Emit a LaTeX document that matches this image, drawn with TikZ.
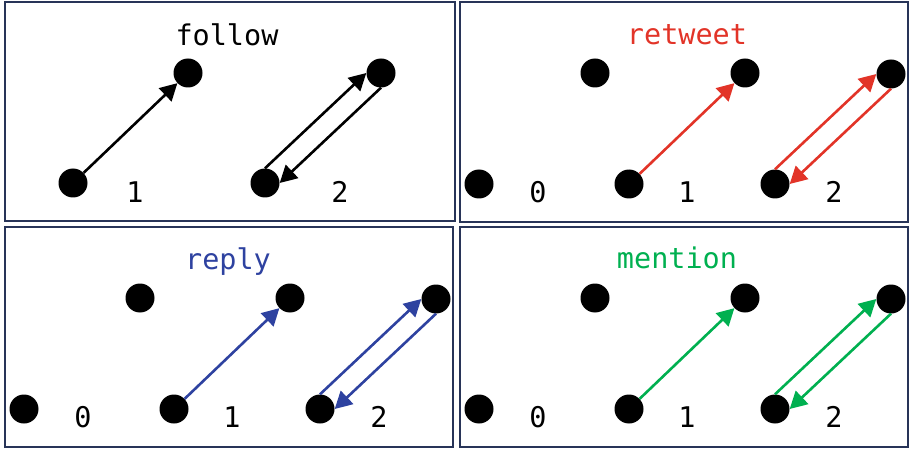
\documentclass[tikz,border=0pt]{standalone}
\usepackage{fontspec}
\setmonofont{DejaVu Sans Mono}
\usepackage{tikz}
\usetikzlibrary{arrows.meta}
\definecolor{framecol}{RGB}{40,52,88}
\definecolor{rtred}{RGB}{226,52,40}
\definecolor{rpblue}{RGB}{46,66,160}
\definecolor{mngreen}{RGB}{0,176,80}
\tikzset{
  dot/.style={circle,fill=black,minimum size=29pt,inner sep=0pt},
  panel/.style={draw=framecol,line width=2.4pt},
  edge/.style={line width=2.6pt,-{Triangle[length=17pt,width=18pt]}},
  title/.style={font=\ttfamily\fontsize{28.5}{30}\selectfont},
  count/.style={font=\ttfamily\fontsize{28.5}{30}\selectfont},
}

\begin{document}
\begin{tikzpicture}[x=1pt,y=-1pt]
  \useasboundingbox (0,0) rectangle (910,449);
  % follow: no isolated pair
  \begin{scope}[shift={(5,2)}]
    \draw[panel] (0,0) rectangle (450,219);
    \node[title] (fw-title) at (222,33) {follow};
    \node[dot] (fw-1a) at (68,181) {};
    \node[dot] (fw-1b) at (183,71) {};
    \node[dot] (fw-2a) at (260,181) {};
    \node[dot] (fw-2b) at (376,71) {};
    \node[count] (fw-1) at (130,190) {1};
    \node[count] (fw-2) at (335,190) {2};
    \draw[edge] (fw-1a) -- (fw-1b);
    \draw[edge] (fw-2a.north) -- (fw-2b.west);
    \draw[edge] (fw-2b.south) -- (fw-2a.east);
  \end{scope}
  % retweet, reply, mention
  \foreach \ox/\oy/\nm/\lab/\col/\tx/\ty in {460/2/rt/retweet/rtred/227/33,
                                              5/227/rp/reply/rpblue/223/35,
                                              460/227/mn/mention/mngreen/217/31}{
    \begin{scope}[shift={(\ox,\oy)}]
      \draw[panel] (0,0) rectangle (448,220);
      \node[title,text=\col] (\nm-title) at (\tx,\ty) {\lab};
      \node[dot] (\nm-0a) at (19,182) {};
      \node[dot] (\nm-0b) at (135,71) {};
      \node[dot] (\nm-1a) at (169,182) {};
      \node[dot] (\nm-1b) at (285,71) {};
      \node[dot] (\nm-2a) at (315,182) {};
      \node[dot] (\nm-2b) at (431,72) {};
      \node[count] (\nm-0) at (78,190) {0};
      \node[count] (\nm-1) at (227,190) {1};
      \node[count] (\nm-2) at (374,190) {2};
      \draw[edge,\col] (\nm-1a) -- (\nm-1b);
      \draw[edge,\col] (\nm-2a.north) -- (\nm-2b.west);
      \draw[edge,\col] (\nm-2b.south) -- (\nm-2a.east);
    \end{scope}
  }
\end{tikzpicture}
\end{document}
